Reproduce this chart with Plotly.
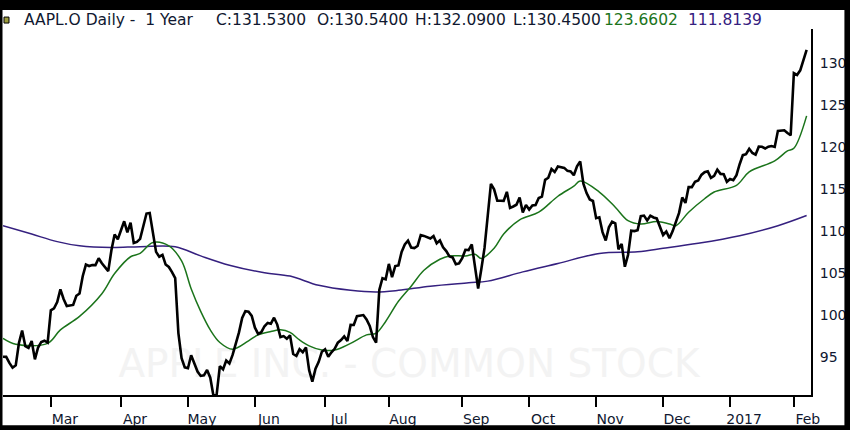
import pandas as pd
import plotly.graph_objects as go

# NYSE holidays inside the window
holidays = ["2016-02-15", "2016-03-25", "2016-05-30", "2016-07-04", "2016-09-05",
            "2016-11-24", "2016-12-26", "2017-01-02", "2017-01-16"]

days = pd.bdate_range("2016-02-08", "2017-02-07", freq="C", holidays=holidays)

# daily closes, Feb 8 2016 .. Feb 7 2017
close = [
    95.01, 94.99, 94.27, 93.70, 93.99, 96.64, 98.12, 96.26, 96.04, 96.88, 94.69, 96.10, 96.76, 96.91, 96.69,
    100.53, 100.75, 101.50, 103.01, 101.87, 101.03, 101.12, 101.17, 102.26, 102.52, 104.58, 105.97, 105.80,
    105.92, 105.91, 106.72, 106.13, 105.67, 105.19, 107.68, 109.56, 108.99,
    109.99, 111.12, 109.81, 110.96, 108.54, 108.66, 109.02, 110.44, 112.04, 112.10, 109.85, 107.48, 106.91,
    107.13, 105.97, 105.68, 105.08, 104.35, 97.82, 94.83, 93.74,
    93.64, 95.18, 94.19, 93.24, 92.72, 92.79, 93.42, 92.51, 90.34, 90.52, 93.88, 93.49, 94.56, 94.20, 95.22,
    96.43, 97.90, 99.62, 100.41, 100.35, 99.86,
    98.46, 97.72, 97.92, 98.63, 99.03, 98.94, 99.65, 98.83, 97.34, 97.46, 97.14, 97.55, 95.33, 95.10, 95.91,
    95.55, 96.10, 93.40, 92.04, 93.59, 94.40, 95.60,
    95.89, 94.99, 95.53, 95.94, 96.68, 96.98, 97.42, 96.87, 98.79, 98.78, 99.83, 99.87, 99.96, 99.43, 98.66,
    97.34, 96.67, 102.95, 104.34, 104.21,
    106.05, 104.48, 105.79, 105.87, 107.48, 108.37, 108.81, 108.00, 107.93, 108.18, 109.48, 109.38, 109.22,
    109.08, 109.36, 108.51, 108.85, 108.03, 107.57, 106.94, 106.82, 106.00, 106.10,
    106.73, 107.73, 107.70, 108.36, 105.52, 103.13, 105.44, 107.95, 111.77, 115.57, 114.92, 113.58, 113.57,
    113.55, 114.62, 112.71, 112.88, 113.09, 113.95, 112.18, 113.05,
    112.52, 113.00, 113.05, 113.89, 114.06, 116.05, 116.30, 117.34, 116.98, 117.63, 117.55, 117.47, 117.12,
    117.06, 116.60, 117.65, 118.25, 115.59, 114.48, 113.72, 113.54,
    111.49, 111.59, 109.83, 108.84, 110.41, 111.06, 110.88, 107.79, 108.43, 105.71, 107.11, 109.99, 109.95,
    110.06, 111.73, 111.80, 111.23, 111.79, 111.57, 111.46, 110.52,
    109.49, 109.90, 109.11, 109.95, 111.03, 112.12, 113.95, 113.30, 115.19, 115.19, 115.82, 115.97, 116.64,
    116.95, 117.06, 116.29, 116.52, 117.26, 116.76, 116.73, 115.82,
    116.15, 116.02, 116.61, 117.91, 118.99, 119.11, 119.75, 119.25, 119.04, 120.00, 119.99, 119.78, 120.00,
    120.08, 119.97, 121.88, 121.94, 121.95, 121.63, 121.35,
    128.75, 128.53, 129.08, 130.29, 131.53,
]
assert len(close) == len(days)

# short moving average (green)
ma_short_dates = ["2016-02-08", "2016-02-12", "2016-02-29", "2016-03-04", "2016-03-14", "2016-03-23",
                  "2016-03-30", "2016-04-06", "2016-04-11", "2016-04-15", "2016-04-22", "2016-04-28",
                  "2016-05-03", "2016-05-06", "2016-05-11", "2016-05-16", "2016-05-20", "2016-05-27",
                  "2016-06-02", "2016-06-08", "2016-06-13", "2016-06-16", "2016-06-21", "2016-06-24",
                  "2016-06-30", "2016-07-07", "2016-07-14", "2016-07-21", "2016-07-26", "2016-07-29",
                  "2016-08-04", "2016-08-10", "2016-08-16", "2016-08-23", "2016-08-26", "2016-09-02",
                  "2016-09-08", "2016-09-12", "2016-09-16", "2016-09-21", "2016-09-28", "2016-10-06",
                  "2016-10-14", "2016-10-21", "2016-10-25", "2016-11-02", "2016-11-09", "2016-11-15",
                  "2016-11-21", "2016-11-29", "2016-12-05", "2016-12-07", "2016-12-13", "2016-12-20",
                  "2016-12-23", "2017-01-05", "2017-01-11", "2017-01-24", "2017-01-30", "2017-02-01",
                  "2017-02-07"]
ma_short = [97.2, 96.5, 96.6, 98.2, 99.8, 102.5, 104.9, 106.9, 107.3, 108.6, 108.2, 106.4,
            103.1, 100.4, 98.2, 96.7, 95.9, 96.9, 97.6, 98.0, 98.2, 97.9, 97.0, 96.3,
            95.8, 95.8, 96.6, 97.6, 97.8, 99.2, 101.6, 103.4, 105.3, 106.6, 107.0, 107.0,
            107.2, 106.7, 107.9, 109.6, 111.3, 112.2, 114.1, 115.3, 115.9, 114.6, 112.8, 111.2,
            110.8, 111.1, 110.8, 110.6, 112.2, 113.8, 114.6, 115.4, 117.0, 118.3, 119.5, 119.8,
            123.66]

# long moving average (navy)
ma_long_dates = ["2016-02-08", "2016-02-22", "2016-03-03", "2016-03-14", "2016-03-29", "2016-04-11",
                 "2016-04-26", "2016-05-06", "2016-05-19", "2016-06-06", "2016-06-16", "2016-06-29",
                 "2016-07-14", "2016-07-26", "2016-08-04", "2016-08-18", "2016-09-06", "2016-09-14",
                 "2016-09-29", "2016-10-14", "2016-11-02", "2016-11-18", "2016-12-01", "2016-12-16",
                 "2017-01-06", "2017-01-25", "2017-02-07"]
ma_long = [110.6, 109.6, 108.7, 108.2, 108.0, 108.1, 108.1, 107.0, 105.9, 105.0, 104.6, 103.5,
           102.9, 102.7, 102.9, 103.4, 103.8, 104.0, 105.1, 106.1, 107.3, 107.5, 107.9, 108.5,
           109.4, 110.6, 111.81]

tick_dates = ["2016-03-01", "2016-04-01", "2016-05-02", "2016-06-01", "2016-07-01", "2016-08-01",
              "2016-09-01", "2016-10-03", "2016-11-01", "2016-12-01", "2017-01-03", "2017-02-01"]
tick_text = ["Mar", "Apr", "May", "Jun", "Jul", "Aug", "Sep", "Oct", "Nov", "Dec", "2017", "Feb"]
y_ticks = [95, 100, 105, 110, 115, 120, 125, 130]

# header pieces: text, colour, left edge in pixels
header_parts = [
    ("AAPL.O Daily -&nbsp; 1 Year", "ink", 22),
    ("C:131.5300", "ink", 215),
    ("O:130.5400", "ink", 316),
    ("H:132.0900", "ink", 414),
    ("L:130.4500", "ink", 512),
    ("123.6602", "green", 603),
    ("111.8139", "navy", 688),
]

GREEN = "#1b741b"
NAVY = "#35207f"
INK = "#101830"
colours = {"ink": INK, "green": GREEN, "navy": NAVY}

fig = go.Figure()
fig.add_trace(go.Scatter(x=ma_long_dates, y=ma_long, mode="lines", line_shape="spline",
                         line=dict(color=NAVY, width=1.5), hoverinfo="skip"))
fig.add_trace(go.Scatter(x=ma_short_dates, y=ma_short, mode="lines", line_shape="spline",
                         line=dict(color=GREEN, width=1.5), hoverinfo="skip"))
fig.add_trace(go.Scatter(x=days, y=close, mode="lines",
                         line=dict(color="black", width=2.6)))

# plot area in pixels
L, R, T, B = 3, 813, 29, 397


def px(x):
    return (x - L) / (R - L)


def py(y):
    return (B - y) / (B - T)


frame = dict(type="rect", xref="paper", yref="paper", fillcolor="black", line_width=0)
shapes = [
    dict(frame, x0=px(-5), x1=px(855), y0=py(10), y1=py(-5)),
    dict(frame, x0=px(-5), x1=px(2.5), y0=py(435), y1=py(-5)),
    dict(frame, x0=px(846.5), x1=px(855), y0=py(435), y1=py(-5)),
    dict(frame, x0=px(-5), x1=px(855), y0=py(435), y1=py(427.5)),
    dict(type="rect", xref="paper", yref="paper", x0=px(4), x1=px(9), y0=py(23), y1=py(17),
         fillcolor="#9c9c3c", line=dict(color="black", width=1)),
    dict(type="rect", xref="paper", yref="paper", x0=px(60), x1=px(760), y0=py(385), y1=py(340),
         line_width=0, fillcolor="rgba(0,0,0,0)", layer="below",
         label=dict(text="APPLE INC. - COMMON STOCK", textposition="middle center",
                    font=dict(family="DejaVu Sans", size=39, color="#f3f3f3"))),
]

annotations = [dict(text=t, xref="paper", yref="paper", x=px(x), y=py(20),
                    xanchor="left", yanchor="middle", showarrow=False,
                    font=dict(family="DejaVu Sans", size=15.5, color=colours[c]))
               for t, c, x in header_parts]

fig.update_layout(
    width=850, height=430,
    margin=dict(l=L, r=850 - R, t=T, b=430 - B, pad=0),
    paper_bgcolor="white", plot_bgcolor="white",
    showlegend=False,
    hovermode=False,
    shapes=shapes,
    annotations=annotations,
    xaxis=dict(
        type="date",
        range=["2016-02-08", "2017-02-08 09:00"],
        rangebreaks=[dict(bounds=["sat", "mon"]), dict(values=holidays)],
        tickvals=tick_dates, ticktext=tick_text,
        ticks="outside", ticklen=10, tickwidth=2, tickcolor="black",
        ticklabelshift=14,
        showline=True, linewidth=2, linecolor="black",
        showgrid=False, zeroline=False,
        tickfont=dict(family="DejaVu Sans", size=14, color=INK),
    ),
    yaxis=dict(
        side="right",
        range=[90.45, 134.0],
        tickvals=y_ticks,
        ticks="", ticklabelstandoff=4,
        showline=True, linewidth=2, linecolor="black",
        showgrid=False, zeroline=False,
        tickfont=dict(family="DejaVu Sans", size=14, color=INK),
    ),
)

fig.write_html("out.html", config={"displayModeBar": False},
               post_script="document.body.style.margin='0';document.body.style.overflow='hidden';")
